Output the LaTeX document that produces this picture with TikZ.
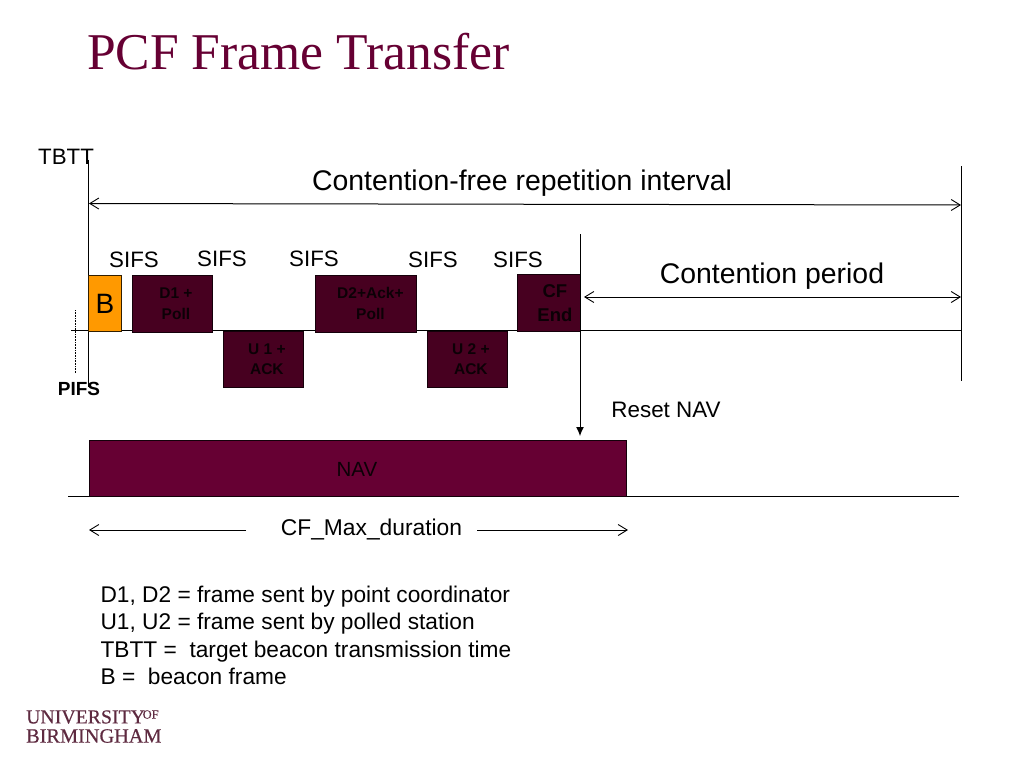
\documentclass[tikz,border=0pt]{standalone}
\usepackage{fontspec}
\setmainfont{Liberation Sans}
\newfontfamily\serifface{Liberation Serif}
\newfontfamily\logoface[FakeBold=0.4]{Liberation Serif}
\usetikzlibrary{arrows.meta}
\definecolor{maroon}{HTML}{660033}
\definecolor{boxfill}{HTML}{470020}
\definecolor{boxtext}{HTML}{0C0006}
\definecolor{logo}{HTML}{5E2A40}
\definecolor{beacon}{HTML}{FF9900}
\newcommand{\pushr}[1]{\hspace*{#1pt}}
\tikzset{
  x=1pt,y=-1pt,
  frame/.style={draw=black!70!boxfill,line width=0.8pt,fill=boxfill,inner sep=0pt,anchor=north west,align=center,text=boxtext,font=\bfseries\fontsize{15.5}{20.5}\selectfont},
  lbl/.style={inner sep=0pt,text=black},
  sifs/.style={lbl,font=\fontsize{22.3}{24}\selectfont},
  big/.style={lbl,font=\fontsize{28.4}{30}\selectfont},
  rule/.style={black,line width=1pt},
  span/.style={black,line width=1pt,{Straight Barb[length=9pt,width=11pt,line width=0.9pt]}-{Straight Barb[length=9pt,width=11pt,line width=0.9pt]}},
  oneway/.style={black,line width=1pt,-{Straight Barb[length=9pt,width=11pt,line width=0.9pt]}},
}
\begin{document}
\begin{tikzpicture}
\useasboundingbox (0,0) rectangle (1024,768);
\node[lbl,anchor=west,text=maroon,font=\serifface\fontsize{51.6}{54}\selectfont] (title) at (87,52) {PCF Frame Transfer};
% free ends
\coordinate (t0) at (88,160); \coordinate (t1) at (88,387);
\coordinate (r0) at (961,166); \coordinate (r1) at (961,381);
\coordinate (c0) at (580,234); \coordinate (c1) at (580,436);
\coordinate (b0) at (71,330.5); \coordinate (b1) at (961,330.5);
\coordinate (n0) at (68,496); \coordinate (n1) at (959,496);
\coordinate (p0) at (75.5,310); \coordinate (p1) at (75.5,373);
\coordinate (i0) at (89,203.5); \coordinate (i1) at (961,205);
\coordinate (cp0) at (584,297); \coordinate (cp1) at (961,297);
\coordinate (m0) at (89,530); \coordinate (m0e) at (246,530);
\coordinate (m1s) at (477,530); \coordinate (m1) at (628,530);
% axes
\draw[rule] (b0) -- (b1);
\draw[rule] (n0) -- (n1);
\draw[rule] (t0) -- (t1);
\draw[rule] (r0) -- (r1);
\draw[black,line width=0.6pt,densely dotted] (p0) -- (p1);
% frames
\node[frame,draw=black!80!beacon,fill=beacon,text=black,font=\fontsize{28}{30}\selectfont,minimum width=33pt,minimum height=56pt] (B) at (88,275) {B};
\node[frame,minimum width=80pt,minimum height=56.5pt] (D1) at (132,275) {\pushr{7}D1 +\\\pushr{7}Poll};
\node[frame,minimum width=80pt,minimum height=56pt] (U1) at (223,331) {\pushr{7}U 1 +\\\pushr{7}ACK};
\node[frame,minimum width=101pt,minimum height=56.5pt] (D2) at (315,275) {\pushr{9}D2+Ack+\\\pushr{9}Poll};
\node[frame,minimum width=80pt,minimum height=56pt] (U2) at (427,331) {\pushr{7}U 2 +\\\pushr{7}ACK};
\node[frame,font=\bfseries\fontsize{18.5}{24}\selectfont,minimum width=63pt,minimum height=56.5pt] (CF) at (517,274) {\pushr{12}CF\\\pushr{12}End};
\node[frame,draw=black!80!maroon,fill=maroon,text=boxtext,font=\fontsize{20.5}{24}\selectfont,minimum width=537pt,minimum height=56pt] (NAV) at (89,439.5) {};
\node[lbl,text=boxtext,font=\fontsize{20.5}{24}\selectfont] (navtext) at (357,469) {NAV};
% arrows
\draw[rule,-{Latex[length=9pt,width=8pt]}] (c0) -- (c1);
\draw[span] (i0) -- (i1);
\draw[span] (cp0) -- (cp1);
\draw[oneway] (m0e) -- (m0);
\draw[oneway] (m1s) -- (m1);
% labels
\node[lbl,font=\fontsize{22.3}{27}\selectfont] (tbtt) at (66,157) {TBTT};
\node[big] (cfri) at (522,183) {Contention-free repetition interval};
\node[big] (cper) at (772,276) {Contention period};
\node[sifs] (s1) at (134,260) {SIFS};
\node[sifs] (s2) at (222,259) {SIFS};
\node[sifs] (s3) at (314,259) {SIFS};
\node[sifs] (s4) at (433,260) {SIFS};
\node[sifs] (s5) at (518,260) {SIFS};
\node[lbl,font=\bfseries\fontsize{19}{22}\selectfont] (pifs) at (79,389) {PIFS};
\node[lbl,font=\fontsize{22.4}{24}\selectfont] (reset) at (666,410) {Reset NAV};
\node[lbl,font=\fontsize{22.8}{24}\selectfont] (cfmax) at (371.5,529) {CF\_Max\_duration};
\node[lbl,anchor=north west,align=left,font=\fontsize{22.7}{27.3}\selectfont] (legend) at (100.4,586) {D1, D2 = frame sent by point coordinator\\U1, U2 = frame sent by polled station\\TBTT =\ \ target beacon transmission time\\B =\ \ beacon frame};
% logo
\node[lbl,anchor=west,text=logo,font=\logoface\fontsize{19.8}{20}\selectfont] (uni) at (26,717) {UNIVERSITY};
\node[lbl,anchor=west,text=logo,font=\logoface\fontsize{12.5}{14}\selectfont] (of) at (142.5,714.5) {OF};
\node[lbl,anchor=west,text=logo,font=\logoface\fontsize{20.3}{20}\selectfont] (bham) at (26,736) {BIRMINGHAM};
\end{tikzpicture}
\end{document}
